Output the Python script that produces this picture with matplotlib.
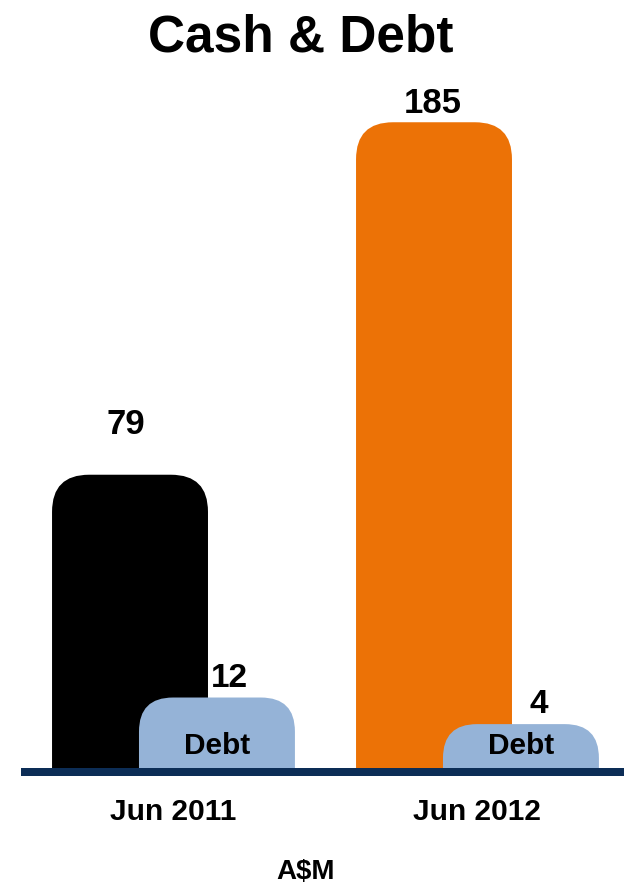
import matplotlib
matplotlib.use("Agg")
import matplotlib.pyplot as plt
from matplotlib.patches import FancyBboxPatch
import numpy as np

plt.rcParams['font.family'] = ['Liberation Sans', 'DejaVu Sans']
plt.rcParams['font.weight'] = 'bold'

# Data (A$M)
periods = ["Jun 2011", "Jun 2012"]
cash = [79, 185]
debt = [12, 4]

# Styling
cash_colors = ["#000000", "#EC7206"]
debt_color = "#95B3D7"
axis_color = "#0C2D56"
FLOOR = -10.4
TOP = 194.7

W, H = 624, 886
fig = plt.figure(figsize=(W / 100, H / 100), dpi=100)
ax = fig.add_axes([21 / W, (H - 772) / H, 603 / W, (772 - 90) / H])
ax.set_xlim(-0.5016, 1.482)
ax.set_ylim(FLOOR, TOP)

x = np.arange(len(periods))
width = 0.513
shift = 0.143

cash_bars = ax.bar(x - shift, np.array(cash) - FLOOR, width, bottom=FLOOR,
                   color=cash_colors, zorder=1)
debt_bars = ax.bar(x + shift, np.array(debt) - FLOOR, width, bottom=FLOOR,
                   color=debt_color, zorder=2)

# pixel scales for the rounded tops
p0 = ax.transData.transform((0, 0))
px_x = ax.transData.transform((1, 0))[0] - p0[0]
px_y = ax.transData.transform((0, 1))[1] - p0[1]


def round_tops(bars, radius_px, z):
    for rect in bars:
        x0, y0 = rect.get_xy()
        w, h = rect.get_width(), rect.get_height()
        fc = rect.get_facecolor()
        rect.set_visible(False)
        ext = 40
        patch = FancyBboxPatch(
            (x0, y0 - ext), w, h + ext,
            boxstyle=f"round,pad=0,rounding_size={radius_px / px_x}",
            mutation_aspect=px_x / px_y,
            facecolor=fc, edgecolor="none", zorder=z)
        ax.add_patch(patch)


round_tops(cash_bars, 37, 1)
round_tops(debt_bars, 34, 2)

# value labels (offsets in pixels)
cash_offsets = [(-4.5, 41), (-1, 9)]
debt_offsets = [(12, 11), (18, 11)]
for i in range(len(periods)):
    dx, dy = cash_offsets[i]
    ax.annotate(str(cash[i]), (x[i] - shift, cash[i]),
                xytext=(dx * 0.72, dy * 0.72), textcoords="offset points",
                ha="center", va="baseline", fontsize=25, fontweight="bold",
                annotation_clip=False)
    dx, dy = debt_offsets[i]
    ax.annotate(str(debt[i]), (x[i] + shift, debt[i]),
                xytext=(dx * 0.72, dy * 0.72), textcoords="offset points",
                ha="center", va="baseline", fontsize=24, fontweight="bold",
                annotation_clip=False)
    ax.annotate("Debt", (x[i] + shift, FLOOR),
                xytext=(0, 18 * 0.72), textcoords="offset points",
                ha="center", va="baseline", fontsize=21.5, fontweight="bold",
                zorder=3)

# axis styling
for side in ["top", "left", "right"]:
    ax.spines[side].set_visible(False)
ax.spines["bottom"].set_color(axis_color)
ax.spines["bottom"].set_linewidth(8 * 0.72)
ax.spines["bottom"].set_capstyle("butt")
ax.spines["bottom"].set_zorder(4)
ax.set_yticks([])
ax.set_xticks(x, periods)
ax.tick_params(axis="x", length=0, pad=18.4, labelsize=21.5)
for lbl in ax.get_xticklabels():
    lbl.set_fontweight("bold")
ax.set_facecolor("none")

fig.text(300.5 / W, (H - 52) / H, "Cash & Debt", ha="center", va="baseline",
         fontsize=37, fontweight="bold")
fig.text(306 / W, 7 / H, r"A\$M", ha="center", va="baseline",
         fontsize=20, fontweight="bold")

fig.savefig("out.png", dpi=100)
